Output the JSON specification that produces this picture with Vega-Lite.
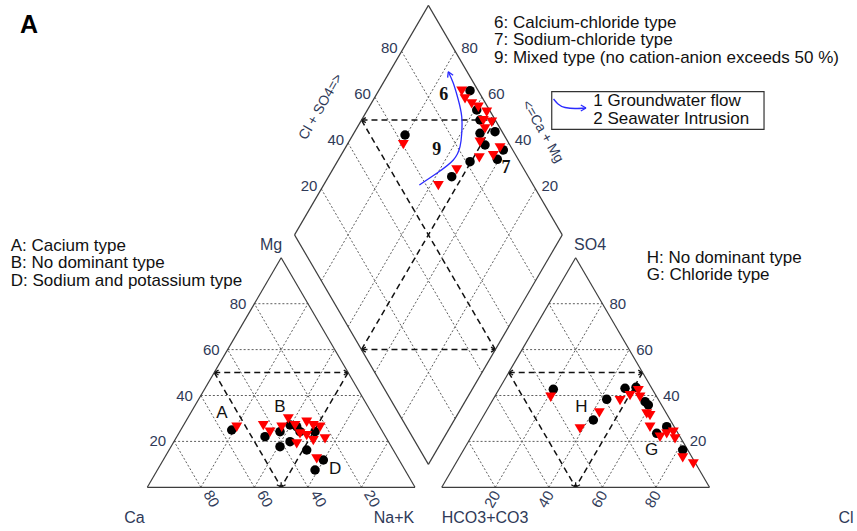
{
  "$schema": "https://vega.github.io/schema/vega-lite/v6.json",
  "width": 857,
  "height": 531,
  "padding": 0,
  "autosize": "none",
  "background": "white",
  "config": {"view": {"stroke": null}},
  "datasets": {
    "outline": [
      {"x": 0, "y": 0, "x2": 100, "y2": 0},
      {"x": 0, "y": 0, "x2": 50, "y2": 86.6025},
      {"x": 100, "y": 0, "x2": 50, "y2": 86.6025},
      {"x": 110, "y": 0, "x2": 210, "y2": 0},
      {"x": 110, "y": 0, "x2": 160, "y2": 86.6025},
      {"x": 210, "y": 0, "x2": 160, "y2": 86.6025},
      {"x": 105, "y": 8.6603, "x2": 55, "y2": 95.2628},
      {"x": 55, "y": 95.2628, "x2": 105, "y2": 181.8653},
      {"x": 105, "y": 181.8653, "x2": 155, "y2": 95.2628},
      {"x": 155, "y": 95.2628, "x2": 105, "y2": 8.6603}
    ],
    "grid": [
      {"x": 10, "y": 17.3205, "x2": 90, "y2": 17.3205},
      {"x": 20, "y": 34.641, "x2": 80, "y2": 34.641},
      {"x": 30, "y": 51.9615, "x2": 70, "y2": 51.9615},
      {"x": 40, "y": 69.282, "x2": 60, "y2": 69.282},
      {"x": 20, "y": 0, "x2": 60, "y2": 69.282},
      {"x": 40, "y": 0, "x2": 70, "y2": 51.9615},
      {"x": 60, "y": 0, "x2": 80, "y2": 34.641},
      {"x": 80, "y": 0, "x2": 90, "y2": 17.3205},
      {"x": 80, "y": 0, "x2": 40, "y2": 69.282},
      {"x": 60, "y": 0, "x2": 30, "y2": 51.9615},
      {"x": 40, "y": 0, "x2": 20, "y2": 34.641},
      {"x": 20, "y": 0, "x2": 10, "y2": 17.3205},
      {"x": 120, "y": 17.3205, "x2": 200, "y2": 17.3205},
      {"x": 130, "y": 34.641, "x2": 190, "y2": 34.641},
      {"x": 140, "y": 51.9615, "x2": 180, "y2": 51.9615},
      {"x": 150, "y": 69.282, "x2": 170, "y2": 69.282},
      {"x": 130, "y": 0, "x2": 170, "y2": 69.282},
      {"x": 150, "y": 0, "x2": 180, "y2": 51.9615},
      {"x": 170, "y": 0, "x2": 190, "y2": 34.641},
      {"x": 190, "y": 0, "x2": 200, "y2": 17.3205},
      {"x": 190, "y": 0, "x2": 150, "y2": 69.282},
      {"x": 170, "y": 0, "x2": 140, "y2": 51.9615},
      {"x": 150, "y": 0, "x2": 130, "y2": 34.641},
      {"x": 130, "y": 0, "x2": 120, "y2": 17.3205},
      {"x": 65, "y": 112.5833, "x2": 115, "y2": 25.9808},
      {"x": 75, "y": 129.9038, "x2": 125, "y2": 43.3013},
      {"x": 85, "y": 147.2243, "x2": 135, "y2": 60.6218},
      {"x": 95, "y": 164.5448, "x2": 145, "y2": 77.9423},
      {"x": 65, "y": 77.9423, "x2": 115, "y2": 164.5448},
      {"x": 75, "y": 60.6218, "x2": 125, "y2": 147.2243},
      {"x": 85, "y": 43.3013, "x2": 135, "y2": 129.9038},
      {"x": 95, "y": 25.9808, "x2": 145, "y2": 112.5833}
    ],
    "dashed": [
      {"x": 25, "y": 43.3013, "x2": 75, "y2": 43.3013},
      {"x": 25, "y": 43.3013, "x2": 50, "y2": 0},
      {"x": 75, "y": 43.3013, "x2": 50, "y2": 0},
      {"x": 135, "y": 43.3013, "x2": 185, "y2": 43.3013},
      {"x": 135, "y": 43.3013, "x2": 160, "y2": 0},
      {"x": 185, "y": 43.3013, "x2": 160, "y2": 0},
      {"x": 80, "y": 138.564, "x2": 130, "y2": 138.564},
      {"x": 80, "y": 51.9615, "x2": 130, "y2": 51.9615},
      {"x": 80, "y": 138.564, "x2": 130, "y2": 51.9615},
      {"x": 80, "y": 51.9615, "x2": 130, "y2": 138.564}
    ],
    "heads": [
      {"x": 25, "y": 43.3013, "x2": 26.62, "y2": 44.24},
      {"x": 25, "y": 43.3013, "x2": 26.62, "y2": 42.36},
      {"x": 75, "y": 43.3013, "x2": 73.38, "y2": 44.24},
      {"x": 75, "y": 43.3013, "x2": 73.38, "y2": 42.36},
      {"x": 50, "y": 0, "x2": 50, "y2": 1.89},
      {"x": 50, "y": 0, "x2": 48.38, "y2": 0.94},
      {"x": 50, "y": 0, "x2": 51.62, "y2": 0.94},
      {"x": 135, "y": 43.3013, "x2": 136.62, "y2": 44.24},
      {"x": 135, "y": 43.3013, "x2": 136.62, "y2": 42.36},
      {"x": 185, "y": 43.3013, "x2": 183.38, "y2": 44.24},
      {"x": 185, "y": 43.3013, "x2": 183.38, "y2": 42.36},
      {"x": 160, "y": 0, "x2": 160, "y2": 1.89},
      {"x": 160, "y": 0, "x2": 158.38, "y2": 0.94},
      {"x": 160, "y": 0, "x2": 161.62, "y2": 0.94},
      {"x": 80, "y": 138.564, "x2": 81.62, "y2": 139.5},
      {"x": 80, "y": 138.564, "x2": 81.62, "y2": 137.62},
      {"x": 130, "y": 138.564, "x2": 128.38, "y2": 139.5},
      {"x": 130, "y": 138.564, "x2": 128.38, "y2": 137.62},
      {"x": 80, "y": 51.9615, "x2": 81.62, "y2": 52.9},
      {"x": 80, "y": 51.9615, "x2": 81.62, "y2": 51.02},
      {"x": 130, "y": 51.9615, "x2": 128.38, "y2": 52.9},
      {"x": 130, "y": 51.9615, "x2": 128.38, "y2": 51.02}
    ],
    "flow": [
      {"i": 0, "x": 101.61, "y": 114.08},
      {"i": 1, "x": 108.11, "y": 118.49},
      {"i": 2, "x": 114.31, "y": 123.51},
      {"i": 3, "x": 116.81, "y": 128.53},
      {"i": 4, "x": 117.45, "y": 133.58},
      {"i": 5, "x": 117.45, "y": 139.85},
      {"i": 6, "x": 116.18, "y": 146.15},
      {"i": 7, "x": 114.31, "y": 152.45},
      {"i": 8, "x": 112.44, "y": 156.83}
    ],
    "flowHead": [
      {"x": 112.44, "y": 156.83, "x2": 112.18, "y2": 154.58},
      {"x": 112.44, "y": 156.83, "x2": 114.24, "y2": 155.48},
      {"x": 163.88, "y": 143.13, "x2": 161.94, "y2": 144.26},
      {"x": 163.88, "y": 143.13, "x2": 161.94, "y2": 142.0}
    ],
    "legendArrow": [
      {"i": 0, "x": 151.74, "y": 146.53},
      {"i": 1, "x": 153.42, "y": 144.64},
      {"i": 2, "x": 156.04, "y": 143.32},
      {"i": 3, "x": 159.77, "y": 142.94},
      {"i": 4, "x": 163.88, "y": 143.13}
    ],
    "legendBox": [
      {"x": 151.07, "y": 135.09, "x2": 230.37, "y2": 149.28}
    ],
    "samples": [
      {"s": "a", "x": 31.53, "y": 21.62},
      {"s": "a", "x": 43.97, "y": 19.09},
      {"s": "a", "x": 49.57, "y": 20.98},
      {"s": "a", "x": 53.31, "y": 23.51},
      {"s": "a", "x": 55.81, "y": 22.87},
      {"s": "a", "x": 49.57, "y": 15.32},
      {"s": "a", "x": 53.31, "y": 17.21},
      {"s": "a", "x": 59.54, "y": 14.08},
      {"s": "a", "x": 57.04, "y": 20.98},
      {"s": "a", "x": 62.65, "y": 20.98},
      {"s": "a", "x": 65.75, "y": 10.3},
      {"s": "a", "x": 62.65, "y": 6.53},
      {"s": "a", "x": 151.66, "y": 36.98},
      {"s": "a", "x": 171.61, "y": 33.21},
      {"s": "a", "x": 166.6, "y": 25.4},
      {"s": "a", "x": 178.45, "y": 37.36},
      {"s": "a", "x": 182.55, "y": 37.74},
      {"s": "a", "x": 185.92, "y": 32.3},
      {"s": "a", "x": 187.15, "y": 31.06},
      {"s": "a", "x": 190.29, "y": 20.38},
      {"s": "a", "x": 194.02, "y": 22.87},
      {"s": "a", "x": 200.0, "y": 14.08},
      {"s": "a", "x": 120.55, "y": 149.66},
      {"s": "a", "x": 123.05, "y": 142.38},
      {"s": "a", "x": 124.28, "y": 138.6},
      {"s": "a", "x": 124.28, "y": 133.58},
      {"s": "a", "x": 129.88, "y": 134.19},
      {"s": "a", "x": 126.15, "y": 129.17},
      {"s": "a", "x": 132.99, "y": 127.28},
      {"s": "a", "x": 130.74, "y": 123.77},
      {"s": "a", "x": 120.55, "y": 122.87},
      {"s": "a", "x": 113.71, "y": 117.21},
      {"s": "a", "x": 96.27, "y": 132.94},
      {"s": "b", "x": 33.4, "y": 22.87},
      {"s": "b", "x": 43.33, "y": 23.51},
      {"s": "b", "x": 45.84, "y": 20.98},
      {"s": "b", "x": 50.21, "y": 22.87},
      {"s": "b", "x": 52.67, "y": 26.04},
      {"s": "b", "x": 55.17, "y": 23.51},
      {"s": "b", "x": 57.04, "y": 20.38},
      {"s": "b", "x": 55.81, "y": 16.6},
      {"s": "b", "x": 59.54, "y": 24.75},
      {"s": "b", "x": 62.01, "y": 23.51},
      {"s": "b", "x": 64.51, "y": 22.87},
      {"s": "b", "x": 59.54, "y": 19.74},
      {"s": "b", "x": 62.01, "y": 17.85},
      {"s": "b", "x": 66.38, "y": 18.49},
      {"s": "b", "x": 63.28, "y": 10.94},
      {"s": "b", "x": 150.69, "y": 34.19},
      {"s": "b", "x": 176.58, "y": 32.94},
      {"s": "b", "x": 168.85, "y": 28.3},
      {"s": "b", "x": 161.64, "y": 22.26},
      {"s": "b", "x": 180.32, "y": 34.83},
      {"s": "b", "x": 183.42, "y": 36.72},
      {"s": "b", "x": 184.05, "y": 34.19},
      {"s": "b", "x": 186.55, "y": 27.92},
      {"s": "b", "x": 187.78, "y": 27.28},
      {"s": "b", "x": 187.78, "y": 22.87},
      {"s": "b", "x": 191.52, "y": 19.09},
      {"s": "b", "x": 194.02, "y": 20.38},
      {"s": "b", "x": 196.49, "y": 20.98},
      {"s": "b", "x": 197.12, "y": 18.49},
      {"s": "b", "x": 200.0, "y": 11.32},
      {"s": "b", "x": 203.96, "y": 9.06},
      {"s": "b", "x": 117.45, "y": 149.66},
      {"s": "b", "x": 118.68, "y": 146.79},
      {"s": "b", "x": 121.18, "y": 144.91},
      {"s": "b", "x": 123.65, "y": 143.62},
      {"s": "b", "x": 126.78, "y": 141.74},
      {"s": "b", "x": 125.51, "y": 138.6},
      {"s": "b", "x": 128.65, "y": 137.96},
      {"s": "b", "x": 126.15, "y": 135.47},
      {"s": "b", "x": 124.28, "y": 130.42},
      {"s": "b", "x": 131.75, "y": 128.3},
      {"s": "b", "x": 129.25, "y": 125.4},
      {"s": "b", "x": 124.02, "y": 124.53},
      {"s": "b", "x": 115.58, "y": 120.0},
      {"s": "b", "x": 108.71, "y": 114.08},
      {"s": "b", "x": 95.63, "y": 129.55}
    ],
    "tickLeftEdge": [
      {"x": 10, "y": 17.3205, "label": "20"},
      {"x": 20, "y": 34.641, "label": "40"},
      {"x": 30, "y": 51.9615, "label": "60"},
      {"x": 40, "y": 69.282, "label": "80"}
    ],
    "tickRightEdge": [
      {"x": 200, "y": 17.3205, "label": "20"},
      {"x": 190, "y": 34.641, "label": "40"},
      {"x": 180, "y": 51.9615, "label": "60"},
      {"x": 170, "y": 69.282, "label": "80"}
    ],
    "tickDiaLeft": [
      {"x": 65, "y": 112.5833, "label": "20"},
      {"x": 75, "y": 129.9038, "label": "40"},
      {"x": 85, "y": 147.2243, "label": "60"},
      {"x": 95, "y": 164.5448, "label": "80"}
    ],
    "tickDiaRight": [
      {"x": 145, "y": 112.5833, "label": "20"},
      {"x": 135, "y": 129.9038, "label": "40"},
      {"x": 125, "y": 147.2243, "label": "60"},
      {"x": 115, "y": 164.5448, "label": "80"}
    ],
    "tickBaseLeft": [
      {"x": 20, "y": 0, "label": "80"},
      {"x": 40, "y": 0, "label": "60"},
      {"x": 60, "y": 0, "label": "40"},
      {"x": 80, "y": 0, "label": "20"}
    ],
    "tickBaseRight": [
      {"x": 130, "y": 0, "label": "20"},
      {"x": 150, "y": 0, "label": "40"},
      {"x": 170, "y": 0, "label": "60"},
      {"x": 190, "y": 0, "label": "80"}
    ],
    "axisTitles": [
      {"x": 46.21, "y": 89.55, "label": "Mg"},
      {"x": 165.37, "y": 89.55, "label": "SO4"},
      {"x": -4.78, "y": -13.47, "label": "Ca"},
      {"x": 92.16, "y": -13.47, "label": "Na+K"},
      {"x": 126.15, "y": -13.47, "label": "HCO3+CO3"},
      {"x": 261.0, "y": -13.47, "label": "Cl"}
    ],
    "titleUp": [{"x": 64.89, "y": 143.51, "label": "Cl + SO4=>"}],
    "titleDown": [{"x": 147.63, "y": 134.19, "label": "<=Ca + Mg"}],
    "zoneLetters": [
      {"x": 27.9, "y": 27.92, "label": "A"},
      {"x": 49.57, "y": 30.42, "label": "B"},
      {"x": 70.12, "y": 6.83, "label": "D"},
      {"x": 162.12, "y": 30.23, "label": "H"},
      {"x": 188.42, "y": 14.26, "label": "G"}
    ],
    "zoneNumbers": [
      {"x": 110.76, "y": 148.15, "label": "6"},
      {"x": 108.11, "y": 127.28, "label": "9"},
      {"x": 134.0, "y": 120.38, "label": "7"}
    ],
    "notes": [
      {"x": 129.51, "y": 173.32, "label": "6: Calcium-chloride type"},
      {"x": 129.51, "y": 166.72, "label": "7: Sodium-chloride type"},
      {"x": 129.51, "y": 160.11, "label": "9: Mixed type (no cation-anion exceeds 50 %)"},
      {"x": -51.03, "y": 89.36, "label": "A: Cacium type"},
      {"x": -51.03, "y": 82.75, "label": "B: No dominant type"},
      {"x": -51.03, "y": 76.15, "label": "D: Sodium and potassium type"},
      {"x": 186.55, "y": 84.64, "label": "H: No dominant type"},
      {"x": 186.55, "y": 78.04, "label": "G: Chloride type"},
      {"x": 166.61, "y": 143.89, "label": "1 Groundwater flow"},
      {"x": 166.61, "y": 137.28, "label": "2 Seawater Intrusion"}
    ],
    "panel": [{"x": -47.55, "y": 171.43, "label": "A"}]
  },
  "encoding": {
    "x": {"field": "x", "type": "quantitative", "scale": {"domain": [-55.03, 265.1], "nice": false, "zero": false}, "axis": null},
    "y": {"field": "y", "type": "quantitative", "scale": {"domain": [-16.49, 183.89], "nice": false, "zero": false}, "axis": null}
  },
  "layer": [
    {"data": {"name": "grid"}, "mark": {"type": "rule", "color": "#5e5e5e", "strokeWidth": 1, "strokeDash": [2, 2]}, "encoding": {"x2": {"field": "x2"}, "y2": {"field": "y2"}}},
    {"data": {"name": "dashed"}, "mark": {"type": "rule", "color": "#111111", "strokeWidth": 1.5, "strokeDash": [6, 4]}, "encoding": {"x2": {"field": "x2"}, "y2": {"field": "y2"}}},
    {"data": {"name": "heads"}, "mark": {"type": "rule", "color": "#111111", "strokeWidth": 1.3}, "encoding": {"x2": {"field": "x2"}, "y2": {"field": "y2"}}},
    {"data": {"name": "outline"}, "mark": {"type": "rule", "color": "#3d3d3d", "strokeWidth": 1.2}, "encoding": {"x2": {"field": "x2"}, "y2": {"field": "y2"}}},
    {"data": {"name": "legendBox"}, "mark": {"type": "rect", "fill": "white", "stroke": "#333333", "strokeWidth": 1.2}, "encoding": {"x2": {"field": "x2"}, "y2": {"field": "y2"}}},
    {"data": {"name": "legendArrow"}, "mark": {"type": "line", "color": "#2b2bff", "strokeWidth": 1.3, "interpolate": "monotone"}, "encoding": {"order": {"field": "i"}}},
    {"data": {"name": "flow"}, "mark": {"type": "line", "color": "#2b2bff", "strokeWidth": 1.3, "interpolate": "natural"}, "encoding": {"order": {"field": "i"}}},
    {"data": {"name": "flowHead"}, "mark": {"type": "rule", "color": "#2b2bff", "strokeWidth": 1.3}, "encoding": {"x2": {"field": "x2"}, "y2": {"field": "y2"}}},
    {"data": {"name": "samples"}, "transform": [{"filter": "datum.s == 'a'"}], "mark": {"type": "circle", "color": "black", "opacity": 1, "size": 90}},
    {"data": {"name": "samples"}, "transform": [{"filter": "datum.s == 'b'"}], "mark": {"type": "point", "shape": "M-1,-0.75L1,-0.75L0,0.95Z", "filled": true, "color": "#ff0000", "opacity": 1, "size": 120}},
    {"data": {"name": "tickLeftEdge"}, "mark": {"type": "text", "font": "Liberation Sans", "fontSize": 15, "color": "#2f3a58", "align": "right", "baseline": "middle", "dx": -8}, "encoding": {"text": {"field": "label"}}},
    {"data": {"name": "tickRightEdge"}, "mark": {"type": "text", "font": "Liberation Sans", "fontSize": 15, "color": "#2f3a58", "align": "left", "baseline": "middle", "dx": 7}, "encoding": {"text": {"field": "label"}}},
    {"data": {"name": "tickDiaLeft"}, "mark": {"type": "text", "font": "Liberation Sans", "fontSize": 15, "color": "#2f3a58", "align": "right", "baseline": "middle", "dx": -4, "dy": -3}, "encoding": {"text": {"field": "label"}}},
    {"data": {"name": "tickDiaRight"}, "mark": {"type": "text", "font": "Liberation Sans", "fontSize": 15, "color": "#2f3a58", "align": "left", "baseline": "middle", "dx": 6, "dy": -3}, "encoding": {"text": {"field": "label"}}},
    {"data": {"name": "tickBaseLeft"}, "mark": {"type": "text", "font": "Liberation Sans", "fontSize": 15, "color": "#2f3a58", "align": "center", "baseline": "middle", "angle": 60, "radius": 15.6, "theta": 2.4}, "encoding": {"text": {"field": "label"}}},
    {"data": {"name": "tickBaseRight"}, "mark": {"type": "text", "font": "Liberation Sans", "fontSize": 15, "color": "#2f3a58", "align": "center", "baseline": "middle", "angle": -60, "radius": 12.4, "theta": 3.386}, "encoding": {"text": {"field": "label"}}},
    {"data": {"name": "axisTitles"}, "mark": {"type": "text", "font": "Liberation Sans", "fontSize": 16, "color": "#2f3a58", "align": "center", "baseline": "alphabetic"}, "encoding": {"text": {"field": "label"}}},
    {"data": {"name": "titleUp"}, "mark": {"type": "text", "font": "Liberation Sans", "fontSize": 14, "color": "#2f3a58", "align": "center", "baseline": "middle", "angle": -60}, "encoding": {"text": {"field": "label"}}},
    {"data": {"name": "titleDown"}, "mark": {"type": "text", "font": "Liberation Sans", "fontSize": 14, "color": "#2f3a58", "align": "center", "baseline": "middle", "angle": 60}, "encoding": {"text": {"field": "label"}}},
    {"data": {"name": "zoneLetters"}, "mark": {"type": "text", "font": "Liberation Sans", "fontSize": 17, "color": "#111111", "align": "center", "baseline": "middle"}, "encoding": {"text": {"field": "label"}}},
    {"data": {"name": "zoneNumbers"}, "mark": {"type": "text", "font": "Liberation Serif", "fontSize": 18, "fontWeight": "bold", "color": "#111111", "align": "center", "baseline": "middle"}, "encoding": {"text": {"field": "label"}}},
    {"data": {"name": "notes"}, "mark": {"type": "text", "font": "Liberation Sans", "fontSize": 17, "color": "#111111", "align": "left", "baseline": "alphabetic"}, "encoding": {"text": {"field": "label"}}},
    {"data": {"name": "panel"}, "mark": {"type": "text", "font": "Liberation Sans", "fontSize": 25, "fontWeight": "bold", "color": "black", "align": "left", "baseline": "alphabetic"}, "encoding": {"text": {"field": "label"}}}
  ]
}
